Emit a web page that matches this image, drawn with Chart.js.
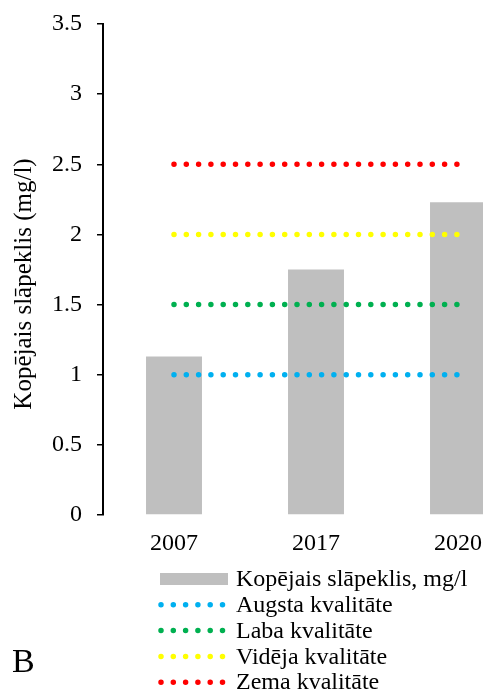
<!DOCTYPE html>
<html>
<head>
<meta charset="utf-8">
<script src="https://cdn.jsdelivr.net/npm/chart.js@4/dist/chart.umd.min.js"></script>
<style>
    html, body { margin: 0; padding: 0; background: #fff; overflow: hidden; }
    #wrap { width: 483px; height: 693px; overflow: hidden; }
</style>
</head>
<body>
<div id="wrap"><canvas id="chart" width="540" height="693"></canvas></div>
<script>
const years = ['2007', '2017', '2020'];
const nitrogen = [1.13, 1.75, 2.23];
const augsta = [1.0, 1.0, 1.0];
const laba = [1.5, 1.5, 1.5];
const videja = [2.0, 2.0, 2.0];
const zema = [2.5, 2.5, 2.5];

const FONT = 'Liberation Serif, Times New Roman, serif';
const DOT_DASH = [0, 12.3];

function dottedLine(label, values, color) {
    return {
        type: 'line',
        label: label,
        data: values,
        borderColor: color,
        backgroundColor: color,
        borderWidth: 5.5,
        borderDash: DOT_DASH,
        borderCapStyle: 'round',
        pointRadius: 0,
        fill: false,
        order: 0
    };
}

// legend, axis title and panel letter drawn by hand (excel-like column legend)
const extras = {
    id: 'extras',
    afterDraw(chart) {
        const ctx = chart.ctx;
        ctx.save();

        // y axis title
        ctx.translate(24, 284);
        ctx.rotate(-Math.PI / 2);
        ctx.font = '25px ' + FONT;
        ctx.fillStyle = '#000';
        ctx.textAlign = 'center';
        ctx.textBaseline = 'middle';
        ctx.fillText('Kopējais slāpeklis (mg/l)', 0, 0);
        ctx.restore();

        ctx.save();
        ctx.font = '24px ' + FONT;
        ctx.textBaseline = 'middle';
        ctx.textAlign = 'left';
        chart.data.datasets.forEach((ds, i) => {
            const y = 579 + i * 25.8;
            if (ds.type === 'line') {
                ctx.beginPath();
                ctx.strokeStyle = ds.borderColor;
                ctx.lineWidth = ds.borderWidth;
                ctx.lineCap = 'round';
                ctx.setLineDash(ds.borderDash);
                ctx.moveTo(161, y);
                ctx.lineTo(224, y);
                ctx.stroke();
                ctx.setLineDash([]);
            } else {
                ctx.fillStyle = ds.backgroundColor;
                ctx.fillRect(160, y - 6, 68, 12);
            }
            ctx.fillStyle = '#000';
            ctx.fillText(ds.label, 236, y + 1);
        });

        ctx.font = '34px ' + FONT;
        ctx.fillText('B', 12, 663);
        ctx.restore();
    }
};

new Chart(document.getElementById('chart'), {
    data: {
        labels: years,
        datasets: [
            {
                type: 'bar',
                label: 'Kopējais slāpeklis, mg/l',
                data: nitrogen,
                backgroundColor: '#bfbfbf',
                barPercentage: 0.394,
                categoryPercentage: 1,
                order: 5
            },
            dottedLine('Augsta kvalitāte', augsta, '#00b0f0'),
            dottedLine('Laba kvalitāte', laba, '#00b050'),
            dottedLine('Vidēja kvalitāte', videja, '#ffff00'),
            dottedLine('Zema kvalitāte', zema, '#ff0000')
        ]
    },
    options: {
        responsive: false,
        animation: false,
        layout: { padding: { top: 24, right: 11, left: 0, bottom: 0 } },
        plugins: {
            legend: { display: false },
            tooltip: { enabled: false }
        },
        scales: {
            x: {
                grid: { display: false, drawTicks: false },
                border: { display: false },
                ticks: { color: '#000', font: { family: FONT, size: 24 }, padding: 14 },
                afterFit: scale => { scale.height = 178; }
            },
            y: {
                min: 0,
                max: 3.5,
                ticks: {
                    stepSize: 0.5,
                    color: '#000',
                    font: { family: FONT, size: 24 },
                    padding: 15,
                    callback: value => String(value)
                },
                grid: { drawOnChartArea: false, drawTicks: true, tickLength: 6, color: '#000', lineWidth: 1.5 },
                border: { display: true, color: '#000', width: 2 },
                afterFit: scale => {
                    scale.width = 103;
                    scale.paddingTop = 0;
                    scale.paddingBottom = 0;
                }
            }
        }
    },
    plugins: [extras]
});
</script>
</body>
</html>
